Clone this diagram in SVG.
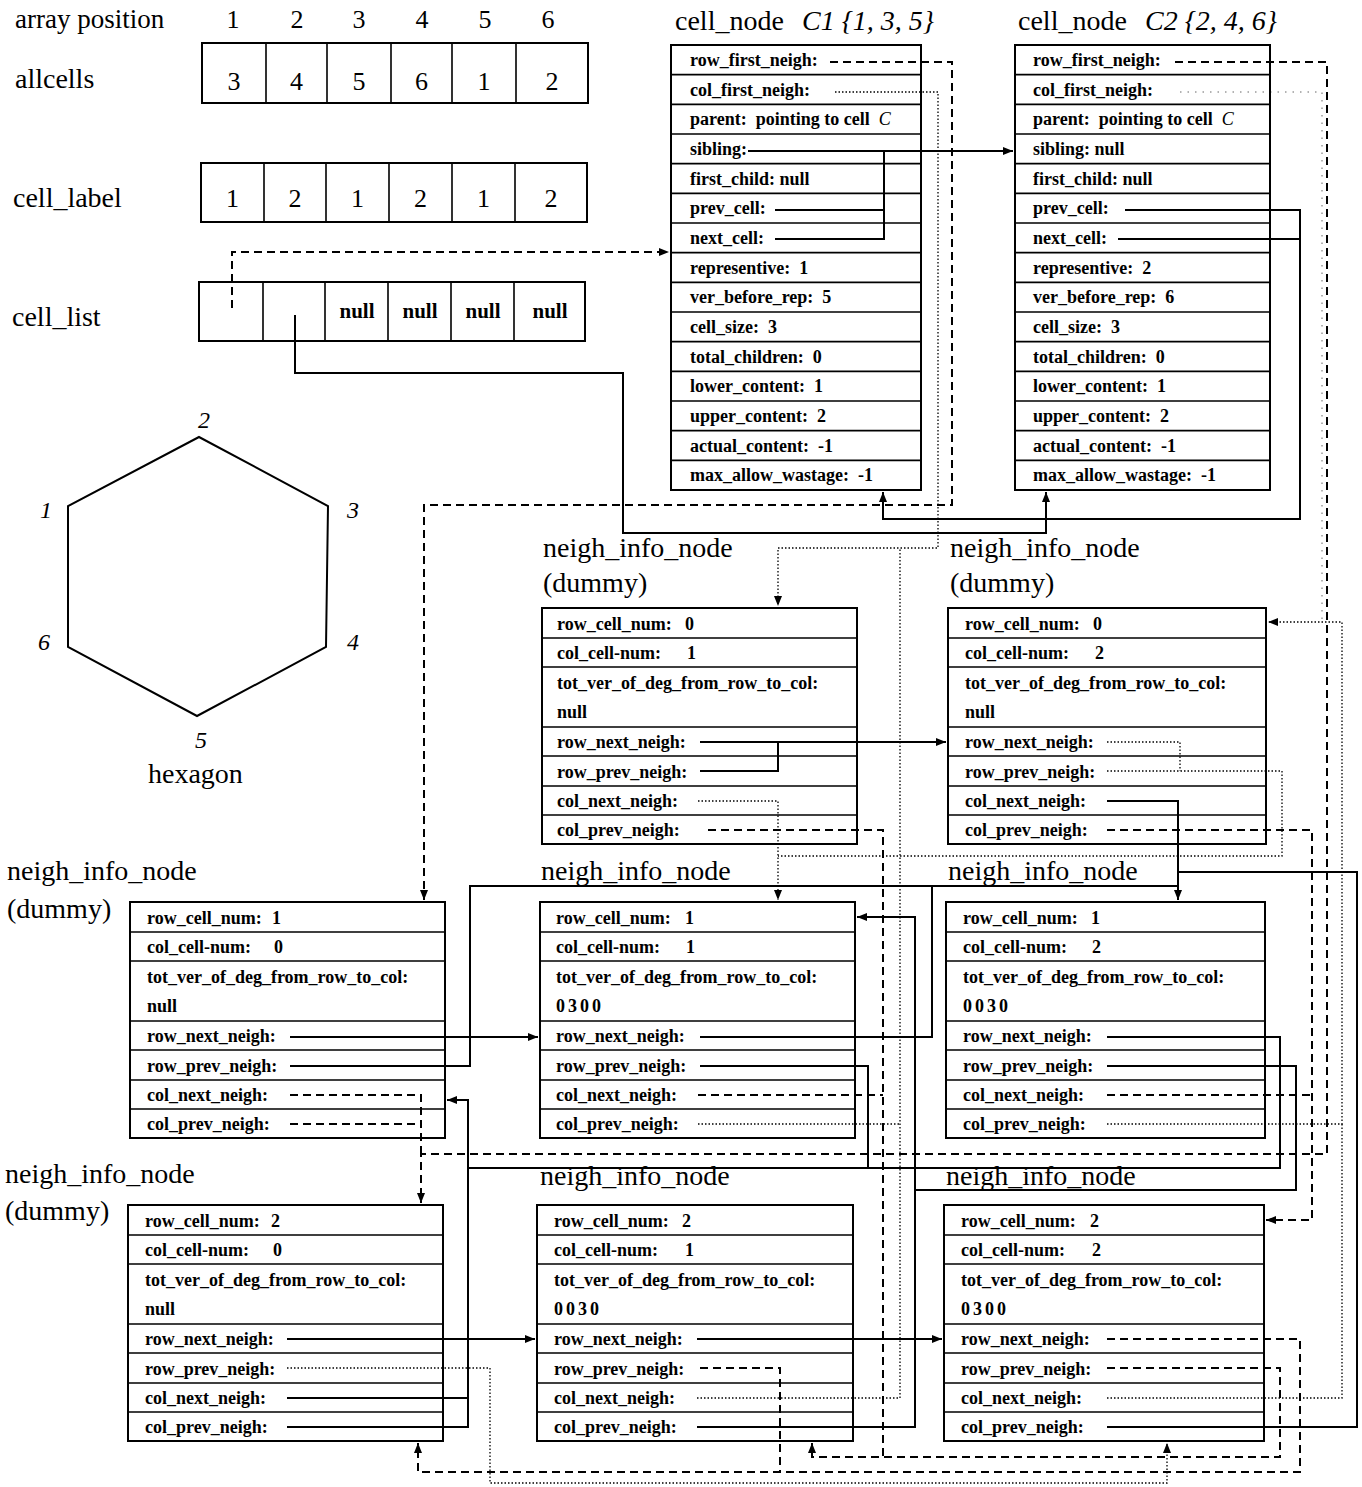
<svg xmlns="http://www.w3.org/2000/svg" width="1362" height="1487" viewBox="0 0 1362 1487">
<style>
.bg{fill:#fff}
.box{fill:#fff;stroke:#000;stroke-width:2}
.rl{stroke:#000;stroke-width:1.6}
.t{font-family:"Liberation Serif",serif;font-size:18px;font-weight:bold;fill:#000;white-space:pre}
.big{font-family:"Liberation Serif",serif;font-size:28px;fill:#000;white-space:pre}
.num{font-family:"Liberation Serif",serif;font-size:26px;fill:#000;text-anchor:middle}
.nul{font-family:"Liberation Serif",serif;font-size:21px;font-weight:bold;fill:#000;text-anchor:middle}
.it{font-family:"Liberation Serif",serif;font-size:24px;font-style:italic;fill:#000}
.s{fill:none;stroke:#000;stroke-width:2}
.d{fill:none;stroke:#000;stroke-width:2;stroke-dasharray:8 5}
.o{fill:none;stroke:#000;stroke-width:1.3;stroke-dasharray:1.5 2}
.of{fill:none;stroke:#000;stroke-width:1;stroke-dasharray:1.5 6;opacity:0.6}
</style>
<defs>
<marker id="a" viewBox="0 0 10 8" refX="10" refY="4" markerWidth="10" markerHeight="8" orient="auto" markerUnits="userSpaceOnUse"><path d="M0,0 L10,4 L0,8 z" fill="#000"/></marker>
</defs>
<rect class="bg" x="0" y="0" width="1362" height="1487"/>

<!-- arrays -->
<g id="arrays">
<text class="big" x="15" y="28" style="font-size:27px">array position</text>
<text class="num" x="233" y="28">1</text><text class="num" x="297" y="28">2</text><text class="num" x="359" y="28">3</text><text class="num" x="422" y="28">4</text><text class="num" x="485" y="28">5</text><text class="num" x="548" y="28">6</text>
<text class="big" x="15" y="88">allcells</text>
<rect class="box" x="202" y="43" width="386" height="60"/>
<path class="rl" d="M266,43V103M327,43V103M391,43V103M452,43V103M516,43V103"/>
<text class="num" x="234" y="90">3</text><text class="num" x="296.5" y="90">4</text><text class="num" x="359" y="90">5</text><text class="num" x="421.5" y="90">6</text><text class="num" x="484" y="90">1</text><text class="num" x="552" y="90">2</text>
<text class="big" x="13" y="207">cell_label</text>
<rect class="box" x="201" y="163" width="386" height="59"/>
<path class="rl" d="M264,163V222M326,163V222M389,163V222M452,163V222M515,163V222"/>
<text class="num" x="232.5" y="207">1</text><text class="num" x="295" y="207">2</text><text class="num" x="357.5" y="207">1</text><text class="num" x="420.5" y="207">2</text><text class="num" x="483.5" y="207">1</text><text class="num" x="551" y="207">2</text>
<text class="big" x="12" y="326">cell_list</text>
<rect class="box" x="199" y="282" width="386" height="59"/>
<path class="rl" d="M263,282V341M325,282V341M388,282V341M451,282V341M514,282V341"/>
<text class="nul" x="357" y="318">null</text><text class="nul" x="420" y="318">null</text><text class="nul" x="483" y="318">null</text><text class="nul" x="550" y="318">null</text>
</g>

<!-- hexagon -->
<g id="hexagon">
<polygon points="199,437 328,506 326,647 197,716 68,647 68,506" fill="none" stroke="#000" stroke-width="2"/>
<text class="it" x="198" y="428">2</text>
<text class="it" x="40" y="518">1</text>
<text class="it" x="347" y="518">3</text>
<text class="it" x="38" y="650">6</text>
<text class="it" x="347" y="650">4</text>
<text class="it" x="195" y="748">5</text>
<text class="big" x="148" y="783">hexagon</text>
</g>

<!-- cell_node C1 -->
<g id="cellC1">
<text class="big" x="675" y="30">cell_node<tspan x="802" font-style="italic">C1 {1, 3, 5}</tspan></text>
<g transform="translate(671,45)">
<rect class="box" x="0" y="0" width="250" height="445"/>
<path class="rl" d="M0,29.67H250M0,59.33H250M0,89H250M0,118.67H250M0,148.33H250M0,178H250M0,207.67H250M0,237.33H250M0,267H250M0,296.67H250M0,326.33H250M0,356H250M0,385.67H250M0,415.33H250"/>
<text class="t" x="19" y="21">row_first_neigh:</text>
<text class="t" x="19" y="50.7">col_first_neigh:</text>
<text class="t" x="19" y="80.3">parent:  pointing to cell  <tspan font-style="italic" font-weight="normal">C</tspan></text>
<text class="t" x="19" y="110">sibling:</text>
<text class="t" x="19" y="139.7">first_child: null</text>
<text class="t" x="19" y="169.3">prev_cell:</text>
<text class="t" x="19" y="199">next_cell:</text>
<text class="t" x="19" y="228.7">representive:  1</text>
<text class="t" x="19" y="258.3">ver_before_rep:  5</text>
<text class="t" x="19" y="288">cell_size:  3</text>
<text class="t" x="19" y="317.7">total_children:  0</text>
<text class="t" x="19" y="347.3">lower_content:  1</text>
<text class="t" x="19" y="377">upper_content:  2</text>
<text class="t" x="19" y="406.7">actual_content:  -1</text>
<text class="t" x="19" y="436.3">max_allow_wastage:  -1</text>
</g>
</g>

<!-- cell_node C2 -->
<g id="cellC2">
<text class="big" x="1018" y="30">cell_node<tspan x="1145" font-style="italic">C2 {2, 4, 6}</tspan></text>
<g transform="translate(1015,45)">
<rect class="box" x="0" y="0" width="255" height="445"/>
<path class="rl" d="M0,29.67H255M0,59.33H255M0,89H255M0,118.67H255M0,148.33H255M0,178H255M0,207.67H255M0,237.33H255M0,267H255M0,296.67H255M0,326.33H255M0,356H255M0,385.67H255M0,415.33H255"/>
<text class="t" x="18" y="21">row_first_neigh:</text>
<text class="t" x="18" y="50.7">col_first_neigh:</text>
<text class="t" x="18" y="80.3">parent:  pointing to cell  <tspan font-style="italic" font-weight="normal">C</tspan></text>
<text class="t" x="18" y="110">sibling: null</text>
<text class="t" x="18" y="139.7">first_child: null</text>
<text class="t" x="18" y="169.3">prev_cell:</text>
<text class="t" x="18" y="199">next_cell:</text>
<text class="t" x="18" y="228.7">representive:  2</text>
<text class="t" x="18" y="258.3">ver_before_rep:  6</text>
<text class="t" x="18" y="288">cell_size:  3</text>
<text class="t" x="18" y="317.7">total_children:  0</text>
<text class="t" x="18" y="347.3">lower_content:  1</text>
<text class="t" x="18" y="377">upper_content:  2</text>
<text class="t" x="18" y="406.7">actual_content:  -1</text>
<text class="t" x="18" y="436.3">max_allow_wastage:  -1</text>
</g>
</g>

<!-- neigh nodes -->
<g id="dummy01">
<text class="big" x="543" y="557">neigh_info_node</text>
<text class="big" x="543" y="592">(dummy)</text>
<g transform="translate(542,608)">
<rect class="box" x="0" y="0" width="315" height="236"/>
<path class="rl" d="M0,30H315M0,59H315M0,119H315M0,148H315M0,178H315M0,207H315"/>
<text class="t" x="15" y="22">row_cell_num:<tspan x="143">0</tspan></text>
<text class="t" x="15" y="51">col_cell-num:<tspan x="145">1</tspan></text>
<text class="t" x="15" y="81">tot_ver_of_deg_from_row_to_col:</text>
<text class="t" x="15" y="110">null</text>
<text class="t" x="15" y="140">row_next_neigh:</text>
<text class="t" x="15" y="170">row_prev_neigh:</text>
<text class="t" x="15" y="199">col_next_neigh:</text>
<text class="t" x="15" y="228">col_prev_neigh:</text>
</g>
</g>

<g id="dummy02">
<text class="big" x="950" y="557">neigh_info_node</text>
<text class="big" x="950" y="592">(dummy)</text>
<g transform="translate(948,608)">
<rect class="box" x="0" y="0" width="318" height="236"/>
<path class="rl" d="M0,30H318M0,59H318M0,119H318M0,148H318M0,178H318M0,207H318"/>
<text class="t" x="17" y="22">row_cell_num:<tspan x="145">0</tspan></text>
<text class="t" x="17" y="51">col_cell-num:<tspan x="147">2</tspan></text>
<text class="t" x="17" y="81">tot_ver_of_deg_from_row_to_col:</text>
<text class="t" x="17" y="110">null</text>
<text class="t" x="17" y="140">row_next_neigh:</text>
<text class="t" x="17" y="170">row_prev_neigh:</text>
<text class="t" x="17" y="199">col_next_neigh:</text>
<text class="t" x="17" y="228">col_prev_neigh:</text>
</g>
</g>

<g id="dummy10">
<text class="big" x="7" y="880">neigh_info_node</text>
<text class="big" x="7" y="918">(dummy)</text>
<g transform="translate(130,902)">
<rect class="box" x="0" y="0" width="315" height="236"/>
<path class="rl" d="M0,30H315M0,59H315M0,119H315M0,148H315M0,178H315M0,207H315"/>
<text class="t" x="17" y="22">row_cell_num:<tspan x="142">1</tspan></text>
<text class="t" x="17" y="51">col_cell-num:<tspan x="144">0</tspan></text>
<text class="t" x="17" y="81">tot_ver_of_deg_from_row_to_col:</text>
<text class="t" x="17" y="110">null</text>
<text class="t" x="17" y="140">row_next_neigh:</text>
<text class="t" x="17" y="170">row_prev_neigh:</text>
<text class="t" x="17" y="199">col_next_neigh:</text>
<text class="t" x="17" y="228">col_prev_neigh:</text>
</g>
</g>

<g id="node11">
<text class="big" x="541" y="880">neigh_info_node</text>
<g transform="translate(540,902)">
<rect class="box" x="0" y="0" width="315" height="236"/>
<path class="rl" d="M0,30H315M0,59H315M0,119H315M0,148H315M0,178H315M0,207H315"/>
<text class="t" x="16" y="22">row_cell_num:<tspan x="145">1</tspan></text>
<text class="t" x="16" y="51">col_cell-num:<tspan x="146">1</tspan></text>
<text class="t" x="16" y="81">tot_ver_of_deg_from_row_to_col:</text>
<text class="t" x="16" y="110" letter-spacing="3">0300</text>
<text class="t" x="16" y="140">row_next_neigh:</text>
<text class="t" x="16" y="170">row_prev_neigh:</text>
<text class="t" x="16" y="199">col_next_neigh:</text>
<text class="t" x="16" y="228">col_prev_neigh:</text>
</g>
</g>

<g id="node12">
<text class="big" x="948" y="880">neigh_info_node</text>
<g transform="translate(946,902)">
<rect class="box" x="0" y="0" width="319" height="236"/>
<path class="rl" d="M0,30H319M0,59H319M0,119H319M0,148H319M0,178H319M0,207H319"/>
<text class="t" x="17" y="22">row_cell_num:<tspan x="145">1</tspan></text>
<text class="t" x="17" y="51">col_cell-num:<tspan x="146">2</tspan></text>
<text class="t" x="17" y="81">tot_ver_of_deg_from_row_to_col:</text>
<text class="t" x="17" y="110" letter-spacing="3">0030</text>
<text class="t" x="17" y="140">row_next_neigh:</text>
<text class="t" x="17" y="170">row_prev_neigh:</text>
<text class="t" x="17" y="199">col_next_neigh:</text>
<text class="t" x="17" y="228">col_prev_neigh:</text>
</g>
</g>

<g id="dummy20">
<text class="big" x="5" y="1183">neigh_info_node</text>
<text class="big" x="5" y="1220">(dummy)</text>
<g transform="translate(128,1205)">
<rect class="box" x="0" y="0" width="315" height="236"/>
<path class="rl" d="M0,30H315M0,59H315M0,119H315M0,148H315M0,178H315M0,207H315"/>
<text class="t" x="17" y="22">row_cell_num:<tspan x="143">2</tspan></text>
<text class="t" x="17" y="51">col_cell-num:<tspan x="145">0</tspan></text>
<text class="t" x="17" y="81">tot_ver_of_deg_from_row_to_col:</text>
<text class="t" x="17" y="110">null</text>
<text class="t" x="17" y="140">row_next_neigh:</text>
<text class="t" x="17" y="170">row_prev_neigh:</text>
<text class="t" x="17" y="199">col_next_neigh:</text>
<text class="t" x="17" y="228">col_prev_neigh:</text>
</g>
</g>

<g id="node21">
<text class="big" x="540" y="1185">neigh_info_node</text>
<g transform="translate(537,1205)">
<rect class="box" x="0" y="0" width="316" height="236"/>
<path class="rl" d="M0,30H316M0,59H316M0,119H316M0,148H316M0,178H316M0,207H316"/>
<text class="t" x="17" y="22">row_cell_num:<tspan x="145">2</tspan></text>
<text class="t" x="17" y="51">col_cell-num:<tspan x="148">1</tspan></text>
<text class="t" x="17" y="81">tot_ver_of_deg_from_row_to_col:</text>
<text class="t" x="17" y="110" letter-spacing="3">0030</text>
<text class="t" x="17" y="140">row_next_neigh:</text>
<text class="t" x="17" y="170">row_prev_neigh:</text>
<text class="t" x="17" y="199">col_next_neigh:</text>
<text class="t" x="17" y="228">col_prev_neigh:</text>
</g>
</g>

<g id="node22">
<text class="big" x="946" y="1185">neigh_info_node</text>
<g transform="translate(944,1205)">
<rect class="box" x="0" y="0" width="320" height="236"/>
<path class="rl" d="M0,30H320M0,59H320M0,119H320M0,148H320M0,178H320M0,207H320"/>
<text class="t" x="17" y="22">row_cell_num:<tspan x="146">2</tspan></text>
<text class="t" x="17" y="51">col_cell-num:<tspan x="148">2</tspan></text>
<text class="t" x="17" y="81">tot_ver_of_deg_from_row_to_col:</text>
<text class="t" x="17" y="110" letter-spacing="3">0300</text>
<text class="t" x="17" y="140">row_next_neigh:</text>
<text class="t" x="17" y="170">row_prev_neigh:</text>
<text class="t" x="17" y="199">col_next_neigh:</text>
<text class="t" x="17" y="228">col_prev_neigh:</text>
</g>
</g>

<!-- connectors -->
<g id="connectors">
<!-- solid -->
<path class="s" d="M295,315V373H623V533H1046V492" marker-end="url(#a)"/>
<path class="s" d="M748,151H1013" marker-end="url(#a)"/>
<path class="s" d="M775,210H884M775,239H884V151"/>
<path class="s" d="M1125,210H1300V519H883V492" marker-end="url(#a)"/>
<path class="s" d="M1118,239H1300"/>
<path class="s" d="M700,742H946" marker-end="url(#a)"/>
<path class="s" d="M700,771H778V742"/>
<path class="s" d="M1107,801H1178V900" marker-end="url(#a)"/>
<path class="s" d="M1107,1427H1357V872H1178"/>
<path class="s" d="M290,1066H470V886H1178"/>
<path class="s" d="M700,1037H932V886"/>
<path class="s" d="M290,1037H538" marker-end="url(#a)"/>
<path class="s" d="M287,1427H468V1100H447" marker-end="url(#a)"/>
<path class="s" d="M287,1398H468"/>
<path class="s" d="M700,1066H868V1168H468"/>
<path class="s" d="M1107,1037H1280V1168H868"/>
<path class="s" d="M1107,1066H1296V1190H915V917H857" marker-end="url(#a)"/>
<path class="s" d="M697,1427H915V1190"/>
<path class="s" d="M287,1339H535" marker-end="url(#a)"/>
<path class="s" d="M697,1339H942" marker-end="url(#a)"/>
<!-- dashed -->
<path class="d" d="M232,308V252H669" marker-end="url(#a)"/>
<path class="d" d="M830,62H952V505H424V900" marker-end="url(#a)"/>
<path class="d" d="M1175,62H1327V1154H421V1203" marker-end="url(#a)"/>
<path class="d" d="M290,1095H421V1154M290,1124H421"/>
<path class="d" d="M708,830H883V1457"/>
<path class="d" d="M698,1095H883"/>
<path class="d" d="M1107,1368H1280V1457H812V1443" marker-end="url(#a)"/>
<path class="d" d="M1107,830H1312V1220H1266" marker-end="url(#a)"/>
<path class="d" d="M1107,1095H1312"/>
<path class="d" d="M1107,1339H1300V1472H418V1443" marker-end="url(#a)"/>
<path class="d" d="M700,1368H780V1472"/>
<!-- dotted -->
<path class="o" d="M835,92H938V548H778V606" marker-end="url(#a)"/>
<path class="o" d="M697,1398H900V548"/>
<path class="o" d="M698,1124H900"/>
<path class="o" d="M698,801H778V900" marker-end="url(#a)"/>
<path class="o" d="M1107,742H1180V771"/>
<path class="o" d="M1107,771H1282V856H778"/>
<path class="of" d="M1180,92H1322V622"/>
<path class="o" d="M1107,1124H1342V622H1268" marker-end="url(#a)"/>
<path class="o" d="M1107,1398H1342V1124"/>
<path class="o" d="M287,1368H490V1483H1167V1443" marker-end="url(#a)"/>
</g>
</svg>
